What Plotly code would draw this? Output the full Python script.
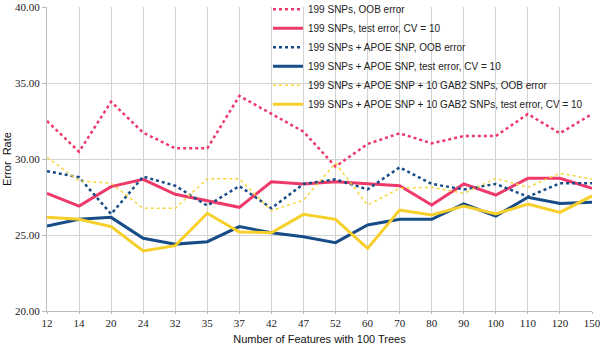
import plotly.graph_objects as go

features = ["12", "14", "20", "24", "32", "35", "37", "42", "47", "52", "60", "70", "80", "90", "100", "110", "120", "150"]

snp199_oob = [32.50, 30.48, 33.77, 31.73, 30.70, 30.70, 34.15, 33.00, 31.80, 29.50, 30.99, 31.69, 31.03, 31.51, 31.51, 32.96, 31.69, 32.96]
snp199_test = [27.74, 26.90, 28.18, 28.66, 27.68, 27.26, 26.82, 28.50, 28.36, 28.50, 28.36, 28.24, 26.97, 28.36, 27.63, 28.73, 28.73, 28.07]
apoe_oob = [29.20, 28.80, 26.38, 28.84, 28.24, 26.93, 28.22, 26.76, 28.36, 28.66, 28.00, 29.45, 28.36, 28.00, 28.36, 27.52, 28.40, 28.40]
apoe_test = [25.59, 26.03, 26.16, 24.78, 24.40, 24.56, 25.55, 25.15, 24.89, 24.50, 25.66, 26.03, 26.03, 27.04, 26.25, 27.48, 27.08, 27.15]
gab2_oob = [30.11, 28.57, 28.40, 26.76, 26.76, 28.70, 28.70, 26.60, 27.30, 29.72, 26.97, 28.07, 28.14, 27.74, 28.73, 28.14, 29.06, 28.68]
gab2_test = [26.16, 26.03, 25.55, 23.95, 24.30, 26.43, 25.20, 25.15, 26.36, 26.03, 24.12, 26.64, 26.32, 26.90, 26.38, 27.04, 26.49, 27.57]

names = [
    "199 SNPs, OOB error",
    "199 SNPs, test error, CV = 10",
    "199 SNPs + APOE SNP, OOB error",
    "199 SNPs + APOE SNP, test error, CV = 10",
    "199 SNPs + APOE SNP + 10 GAB2 SNPs, OOB error",
    "199 SNPs + APOE SNP + 10 GAB2 SNPs, test error, CV = 10",
]
series = [snp199_oob, snp199_test, apoe_oob, apoe_test, gab2_oob, gab2_test]
colors = ["#EE3A6B", "#EE3A6B", "#174C87", "#174C87", "#F5D63C", "#F7CF2A"]
dashes = ["dot", "solid", "dot", "solid", "dot", "solid"]
widths = [2.5, 3, 2.5, 3, 1.5, 3]

fig = go.Figure()
for n, s, c, d, w in zip(names, series, colors, dashes, widths):
    fig.add_trace(go.Scatter(x=features, y=s, name=n, mode="lines",
                             line=dict(color=c, dash=d, width=w)))

fig.update_layout(
    width=600, height=347,
    margin=dict(l=47, r=8, t=7, b=36, autoexpand=False),
    plot_bgcolor="white", paper_bgcolor="white",
    showlegend=True,
    legend=dict(x=0.4055, y=1.04, xanchor="left", yanchor="top",
                bgcolor="rgba(0,0,0,0)", borderwidth=0,
                font=dict(family="Liberation Sans, Arial", size=10, color="#222"),
                tracegroupgap=0),
    font=dict(family="Liberation Serif, DejaVu Serif", size=11, color="#333"),
)
fig.update_xaxes(
    type="category", range=[0, 17], automargin=False,
    showgrid=True, gridcolor="#D3D3D3", gridwidth=1,
    showline=True, linecolor="#BBBBBB", linewidth=1,
    ticks="outside", ticklen=2, tickcolor="#BBBBBB",
    tickfont=dict(family="Liberation Serif, DejaVu Serif", size=11, color="#222"),
    title=dict(text="Number of Features with 100 Trees", standoff=7,
               font=dict(family="Liberation Sans, Arial", size=11, color="#111")),
)
fig.update_yaxes(
    range=[20, 40], dtick=5, tickformat=".2f", automargin=False,
    showgrid=True, gridcolor="#D3D3D3", gridwidth=1,
    showline=True, linecolor="#BBBBBB", linewidth=1,
    ticks="outside", ticklen=4, tickcolor="#BBBBBB",
    tickfont=dict(family="Liberation Serif, DejaVu Serif", size=11, color="#222"),
    title=dict(text="Error  Rate", standoff=1,
               font=dict(family="Liberation Sans, Arial", size=11, color="#111")),
    zeroline=False,
)

fig.write_html("out.html", config={"displayModeBar": False},
               post_script="document.body.style.margin='0px';")
